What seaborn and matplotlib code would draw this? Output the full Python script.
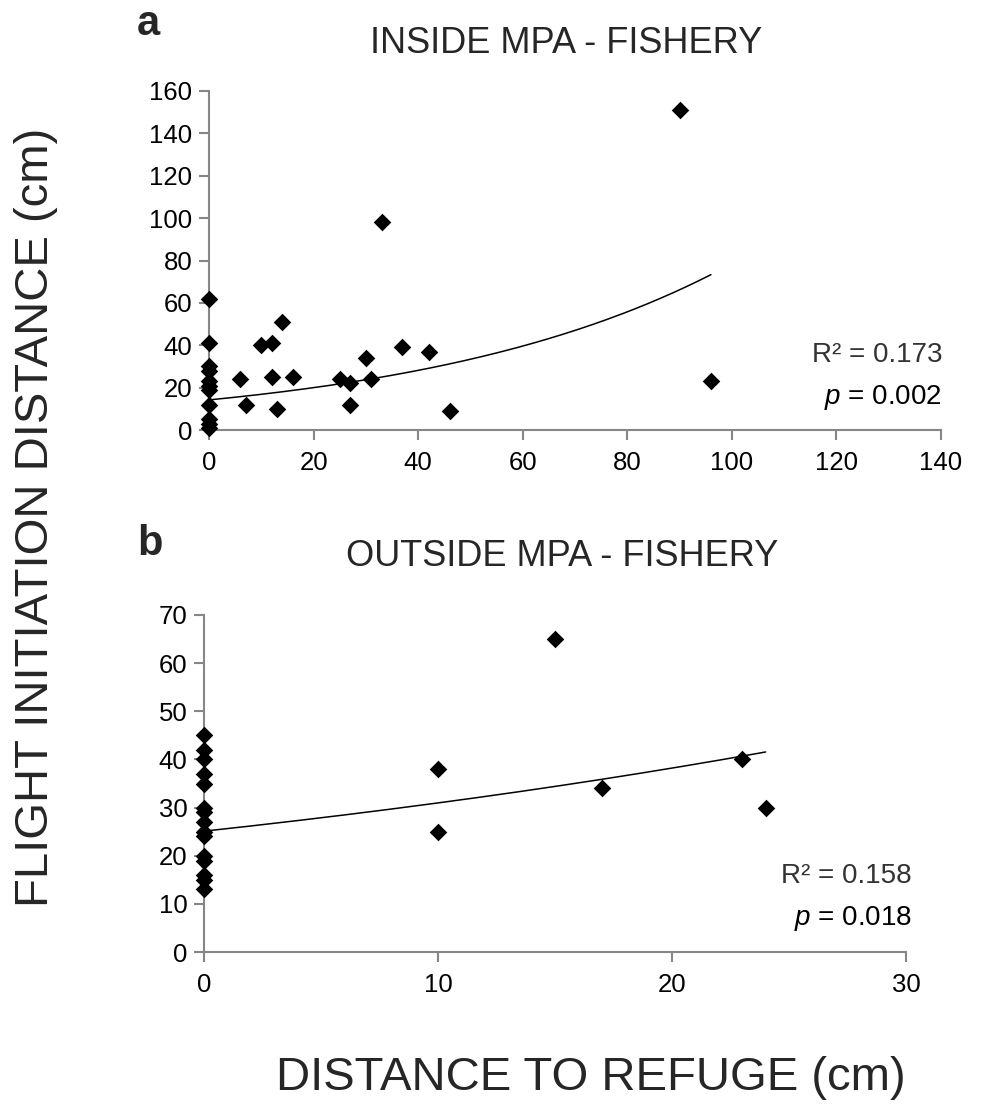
import numpy as np
import pandas as pd
import matplotlib
matplotlib.use("Agg")
import matplotlib.pyplot as plt
import seaborn as sns

# ---------------- data ----------------
# Panel a: inside MPA - fishery
a_x = [0, 0, 0, 0, 0, 0, 0, 0, 0, 0, 0,
       6, 7, 10, 12, 14, 12, 13, 16, 25, 27, 27, 30, 31, 37, 42, 46, 33, 90, 96]
a_y = [62, 41, 30, 28, 23, 21, 19, 12, 5, 3, 1,
       24, 12, 40, 41, 51, 25, 10, 25, 24, 22, 12, 34, 24, 39, 37, 9, 98, 151, 23]
# Panel b: outside MPA - fishery
b_x = [0, 0, 0, 0, 0, 0, 0, 0, 0, 0, 0, 0, 0, 0, 0,
       10, 10, 15, 17, 23, 24]
b_y = [45, 42, 40, 37, 35, 30, 29, 27, 25, 24, 20, 19, 16, 15, 13,
       38, 25, 65, 34, 40, 30]

# exponential trend lines (y = k * exp(r * x))
a_trend_k, a_trend_r = 14.2, 0.0171
b_trend_k, b_trend_r = 25.1, 0.0210

a_title = "INSIDE MPA - FISHERY"
b_title = "OUTSIDE MPA - FISHERY"
a_stats = ["R\u00b2 = 0.173", "$p$ = 0.002"]
b_stats = ["R\u00b2 = 0.158", "$p$ = 0.018"]
a_yticks = list(range(0, 161, 20))
a_xticks = list(range(0, 141, 20))
b_yticks = list(range(0, 71, 10))
b_xticks = list(range(0, 31, 10))
ylabel = "FLIGHT INITIATION DISTANCE (cm)"
xlabel = "DISTANCE TO REFUGE (cm)"

# ---------------- style ----------------
sns.set_style("ticks")
plt.rcParams["font.family"] = ["Liberation Sans", "DejaVu Sans"]
plt.rcParams["mathtext.fontset"] = "custom"
plt.rcParams["mathtext.it"] = "Liberation Sans:italic"
plt.rcParams["mathtext.rm"] = "Liberation Sans"

W, H = 985, 1105
fig = plt.figure(figsize=(W / 100, H / 100), dpi=100)

def fx(px):
    return px / W

def fy(py):
    return 1 - py / H

SPINE = "#868686"

def make_panel(rect, xs, ys, k, r, xticks, yticks, stats, stat_pos):
    ax = fig.add_axes(rect)
    df = pd.DataFrame({"x": xs, "y": ys})
    xr = np.linspace(min(xs), max(xs), 200)
    tr = pd.DataFrame({"x": xr, "y": k * np.exp(r * xr)})
    sns.lineplot(data=tr, x="x", y="y", color="black", linewidth=1.1, ax=ax, zorder=2)
    sns.scatterplot(data=df, x="x", y="y", marker="D", color="black", s=80,
                    linewidth=0, ax=ax, zorder=3, clip_on=False)
    ax.set_xlim(xticks[0], xticks[-1])
    ax.set_ylim(yticks[0], yticks[-1])
    ax.set_xticks(xticks)
    ax.set_yticks(yticks)
    ax.set_xlabel("")
    ax.set_ylabel("")
    for s in ["top", "right"]:
        ax.spines[s].set_visible(False)
    for s in ["left", "bottom"]:
        ax.spines[s].set_color(SPINE)
        ax.spines[s].set_linewidth(1.5)
    ax.tick_params(axis="both", colors=SPINE, labelcolor="black", labelsize=18.5,
                   length=7, width=1.5, direction="out")
    ax.tick_params(axis="x", pad=8)
    ax.tick_params(axis="y", pad=5)
    rx, ry1, ry2 = stat_pos
    fig.text(fx(rx), fy(ry1), stats[0], ha="right", va="baseline", fontsize=20, color="#333333")
    fig.text(fx(rx), fy(ry2), stats[1], ha="right", va="baseline", fontsize=20, color="black")
    return ax

ax1 = make_panel([fx(209), fy(430), fx(941) - fx(209), fy(91) - fy(430)],
                 a_x, a_y, a_trend_k, a_trend_r, a_xticks, a_yticks, a_stats,
                 (942, 362, 404))
ax2 = make_panel([fx(204), fy(952), fx(906) - fx(204), fy(615) - fy(952)],
                 b_x, b_y, b_trend_k, b_trend_r, b_xticks, b_yticks, b_stats,
                 (912, 883, 925))

# panel letters and titles
fig.text(fx(148), fy(35), "a", ha="center", va="baseline", fontsize=30, fontweight="bold")
fig.text(fx(150), fy(555), "b", ha="center", va="baseline", fontsize=30, fontweight="bold")
fig.text(fx(566), fy(53), a_title, ha="center", va="baseline", fontsize=26)
fig.text(fx(562), fy(566), b_title, ha="center", va="baseline", fontsize=26)

# shared axis labels
fig.text(fx(36), fy(517), ylabel, ha="center", va="center", rotation=90, fontsize=34)
fig.text(fx(591), fy(1078), xlabel, ha="center", va="center", fontsize=34)

fig.savefig("out.png", dpi=100, facecolor="white")
